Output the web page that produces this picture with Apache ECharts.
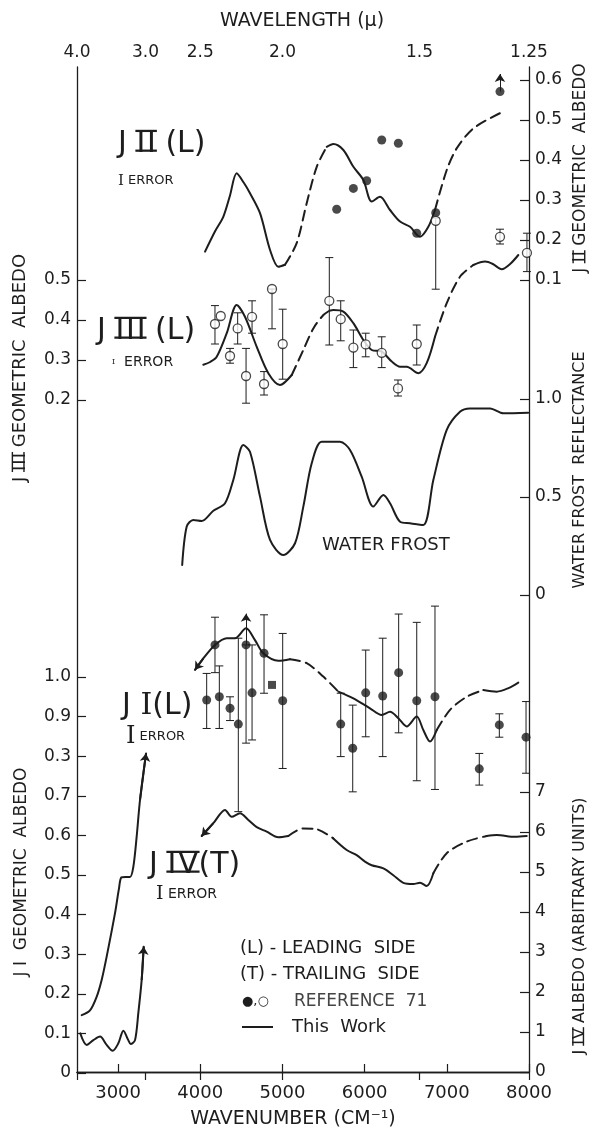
<!DOCTYPE html>
<html>
<head>
<meta charset="utf-8">
<script src="https://cdn.jsdelivr.net/npm/echarts@6/dist/echarts.min.js"></script>
<style>
  html, body { margin: 0; padding: 0; background: #fff; }
  #chart { width: 592px; height: 1130px; }
</style>
</head>
<body>
<div id="chart"></div>
<script>
// ---------- axis ticks ----------
const wavenumberTicks = [3000, 4000, 5000, 6000, 7000, 8000];
const wavelengthTicks = ['4.0', '3.0', '2.5', '2.0', '1.5', '1.25'];
const jiiTicks = [0.1, 0.2, 0.3, 0.4, 0.5, 0.6];
const jiiiTicks = [0.2, 0.3, 0.4, 0.5];
const frostTicks = [0, 0.5, 1.0];
const frostTickLabels = ['0', '0.5', '1.0'];
const jiTicks = [0, 0.1, 0.2, 0.3, 0.4, 0.5, 0.6, 0.7, 0.8, 0.9, 1.0];
const jiTickLabels = ['0', '0.1', '0.2', '0.3', '0.4', '0.5', '0.6', '0.7', '0.3', '0.9', '1.0'];
const jivTicks = [0, 1, 2, 3, 4, 5, 6, 7];

// ---------- J II (Europa, leading side) ----------
const jiiSolidA = [[4058,0.171],[4180,0.222],[4280,0.258],[4360,0.31],[4443,0.367],[4530,0.343],[4605,0.317],[4727,0.267],[4849,0.175],[4950,0.133],[5031,0.138]];
const jiiDashA  = [[5031,0.138],[5173,0.192],[5295,0.292],[5417,0.383],[5539,0.433]];
const jiiSolidB = [[5539,0.433],[5620,0.44],[5741,0.425],[5863,0.383],[5985,0.35],[6086,0.296],[6187,0.308],[6309,0.275],[6431,0.246],[6552,0.233],[6674,0.208],[6775,0.233],[6856,0.275]];
const jiiDashB  = [[6856,0.275],[6999,0.375],[7120,0.429],[7323,0.479],[7647,0.517]];
const jiiRefFilled = [[5660,0.277],[5863,0.329],[6025,0.348],[6208,0.45],[6410,0.442],[6634,0.217],[6865,0.268],[7647,0.571]];
const jiiRefLimit = [[7647,0.571,0.615]];
// [wavenumber, albedo, low, high]
const jiiRefOpen = [[6865,0.248,0.077,0.255],[7647,0.208,0.19,0.227],[7975,0.168,0.121,0.217]];

// ---------- J III (Ganymede, leading side) ----------
const jiiiSolidA = [[4037,0.288],[4120,0.295],[4200,0.308],[4322,0.367],[4443,0.4375],[4544,0.408],[4687,0.333],[4828,0.267],[4970,0.2375],[5113,0.2625]];
const jiiiDashA  = [[5113,0.2625],[5254,0.325],[5376,0.379],[5498,0.4125],[5570,0.423]];
const jiiiSolidB = [[5570,0.423],[5620,0.425],[5741,0.421],[5863,0.392],[5985,0.35],[6086,0.325],[6208,0.321],[6330,0.296],[6431,0.283],[6512,0.283],[6653,0.267],[6755,0.292],[6856,0.358]];
const jiiiDashB  = [[6856,0.358],[6999,0.442],[7160,0.508],[7323,0.5375]];
const jiiiSolidC = [[7323,0.5375],[7465,0.546],[7560,0.54],[7668,0.527],[7770,0.54],[7870,0.5625]];
const jiiiRef = [
  [4179,0.39,0.34,0.436],[4249,0.41,0.41,0.41],[4362,0.31,0.292,0.329],[4455,0.379,0.34,0.418],
  [4557,0.26,0.192,0.329],[4630,0.408,0.367,0.448],[4776,0.24,0.2125,0.271],[4873,0.4775,0.378,0.4775],
  [5003,0.34,0.252,0.427],[5570,0.448,0.3375,0.556],[5709,0.402,0.348,0.448],[5863,0.331,0.281,0.375],
  [6013,0.339,0.308,0.367],[6208,0.318,0.281,0.358],[6406,0.229,0.21,0.25],[6634,0.34,0.2875,0.3875]
];

// ---------- water frost reflectance ----------
const frost = [[3780,0.153],[3835,0.349],[3915,0.383],[4017,0.378],[4159,0.43],[4301,0.468],[4402,0.587],[4524,0.765],[4605,0.731],[4727,0.502],[4849,0.281],[5011,0.204],[5153,0.264],[5254,0.451],[5356,0.672],[5478,0.782],[5700,0.782],[5822,0.74],[5964,0.604],[6106,0.451],[6228,0.51],[6309,0.468],[6431,0.374],[6552,0.366],[6714,0.357],[6836,0.587],[6999,0.842],[7160,0.935],[7282,0.952],[7526,0.952],[7688,0.927],[7990,0.93]];

// ---------- J I (Io, leading side) ----------
const jiSolidA = [[3936,1.018],[4037,1.047],[4179,1.081],[4322,1.098],[4423,1.098],[4557,1.123],[4666,1.093],[4767,1.06],[4950,1.041],[5092,1.045]];
const jiDashA  = [[5092,1.045],[5295,1.035],[5497,1.001],[5680,0.963]];
const jiSolidB = [[5680,0.963],[5863,0.946],[6065,0.921],[6208,0.904],[6309,0.912],[6410,0.896],[6512,0.875],[6634,0.9],[6714,0.866],[6795,0.837],[6877,0.866]];
const jiDashB  = [[6877,0.866],[7039,0.917],[7242,0.95],[7444,0.967]];
const jiSolidC = [[7444,0.967],[7607,0.963],[7750,0.972],[7870,0.986]];
const jiLowUpper = [[2557,0.146],[2658,0.158],[2740,0.193],[2800,0.235],[2861,0.294],[2962,0.403],[3010,0.465],[3040,0.494],[3090,0.495],[3145,0.495],[3185,0.52],[3226,0.597],[3267,0.69],[3340,0.807]];
const jiLowLower = [[2540,0.1],[2618,0.071],[2699,0.083],[2780,0.092],[2861,0.071],[2934,0.056],[3003,0.075],[3064,0.107],[3124,0.083],[3153,0.073],[3206,0.083],[3246,0.151],[3287,0.235],[3312,0.319]];
const jiRef = [
  [4078,0.942,0.87,1.009],[4179,1.081,1.011,1.151],[4232,0.95,0.87,1.028],[4362,0.921,0.89,0.95],
  [4463,0.881,0.66,1.098],[4557,1.081,0.833,1.081],[4630,0.96,0.841,1.081],[4776,1.06,0.959,1.157],
  [5003,0.94,0.769,1.11],[5709,0.881,0.799,0.959],[5855,0.82,0.71,0.929],[6013,0.96,0.849,1.068],
  [6220,0.952,0.799,1.098],[6414,1.011,0.859,1.159],[6634,0.94,0.738,1.138],[6856,0.95,0.716,1.179],
  [7395,0.768,0.727,0.807],[7639,0.879,0.848,0.907],[7964,0.848,0.757,0.938]
];
const jiRefLimit = [[4557,1.081,1.16]];
const jiRefSquare = [[4873,0.98]];

// ---------- J IV (Callisto, trailing side) ----------
const jivSolidA = [[4017,5.9],[4159,6.22],[4301,6.55],[4382,6.38],[4483,6.47],[4585,6.3],[4687,6.12],[4808,6.01],[4950,5.87],[5071,5.9]];
const jivDashA  = [[5071,5.9],[5254,6.09],[5416,6.07],[5619,5.84]];
const jivSolidB = [[5619,5.84],[5782,5.55],[5903,5.42],[6004,5.26],[6086,5.17],[6228,5.09],[6349,4.92],[6471,4.73],[6593,4.7],[6674,4.73],[6755,4.65],[6836,4.97]];
const jivDashB  = [[6836,4.97],[6999,5.47],[7242,5.76],[7485,5.9]];
const jivSolidC = [[7485,5.9],[7607,5.925],[7830,5.88],[7972,5.9]];

// ---------- drawing ----------
const INK = '#1d1d1d';
const FONT = '"DejaVu Sans", sans-serif';
const SERIF = '"DejaVu Serif", serif';
const W = 592, H = 1130, LEFT = 77, RIGHT = 529;

// vertical pixel band for each panel's value axis
function band(topPx, bottomPx) {
  return { left: LEFT, right: W - RIGHT, top: topPx, bottom: H - bottomPx };
}
const grids = [
  band(67, 1072),   // frame
  band(80, 280),    // J II   0.1 .. 0.6
  band(280, 400),   // J III  0.2 .. 0.5
  band(399, 595),   // frost  0 .. 1
  band(677, 1073),  // J I    0 .. 1
  band(792, 1072)   // J IV   0 .. 7
];

const tickStyle = { color: INK, width: 1.2 };
const labelBase = { color: INK, fontFamily: FONT, fontSize: 17 };

function hiddenX(g) {
  return { gridIndex: g, type: 'value', min: 2500, max: 8000, show: false };
}
function valueAxis(g, pos, min, max, ticks, fmt) {
  return {
    gridIndex: g, type: 'value', min, max, position: pos,
    axisLine: { show: false },
    splitLine: { show: false },
    axisTick: { show: true, inside: true, length: 9, customValues: ticks, lineStyle: tickStyle },
    axisLabel: Object.assign({ customValues: ticks, formatter: fmt, margin: 6 }, labelBase)
  };
}

const wavelengthValues = wavelengthTicks.map(s => 1e4 / parseFloat(s));

const xAxes = [
  {
    gridIndex: 0, type: 'value', min: 2500, max: 8000, position: 'bottom',
    axisLine: { show: true, lineStyle: { color: INK, width: 1.3 } },
    splitLine: { show: false },
    axisTick: { show: true, inside: true, length: 8, customValues: wavenumberTicks, lineStyle: tickStyle },
    axisLabel: Object.assign({ customValues: wavenumberTicks, margin: 12, formatter: v => String(Math.round(v)) }, labelBase, { fontSize: 18 })
  },
  {
    gridIndex: 0, type: 'value', min: 2500, max: 8000, position: 'top',
    axisLine: { show: true, lineStyle: { color: INK, width: 1.3 } },
    splitLine: { show: false },
    axisTick: { show: true, inside: true, length: 8, customValues: wavelengthValues, lineStyle: tickStyle },
    axisLabel: Object.assign({
      customValues: wavelengthValues, margin: 6,
      formatter: v => wavelengthTicks[wavelengthValues.findIndex(u => Math.abs(u - v) < 1)]
    }, labelBase)
  },
  hiddenX(1), hiddenX(2), hiddenX(3), hiddenX(4), hiddenX(5)
];

function frameY(pos) {
  return {
    gridIndex: 0, type: 'value', min: 0, max: 1, position: pos,
    axisLine: { show: true, lineStyle: { color: INK, width: 1.3 } },
    axisTick: { show: false }, axisLabel: { show: false }, splitLine: { show: false }
  };
}
const yAxes = [
  frameY('left'), frameY('right'),
  valueAxis(1, 'right', 0.1, 0.6, jiiTicks, v => v.toFixed(1)),
  valueAxis(2, 'left', 0.2, 0.5, jiiiTicks, v => v.toFixed(1)),
  valueAxis(3, 'right', 0, 1, frostTicks, v => frostTickLabels[frostTicks.findIndex(u => Math.abs(u - v) < 1e-6)]),
  valueAxis(4, 'left', 0, 1, jiTicks, v => jiTickLabels[Math.round(v * 10)]),
  valueAxis(5, 'right', 0, 7, jivTicks, v => String(Math.round(v)))
];

// panel index -> axis index (frame uses 0/1)
const AX = { jii: 2, jiii: 3, frost: 4, ji: 5, jiv: 6 };

function curve(data, ax, dashed) {
  return {
    type: 'line', xAxisIndex: ax, yAxisIndex: ax, data,
    symbol: 'none', showSymbol: false, smooth: 0.3, clip: false, silent: true, z: 3,
    lineStyle: { color: INK, width: 2, type: dashed ? [10, 6] : 'solid', cap: 'round', join: 'round' }
  };
}
function filledPoints(data, ax) {
  return {
    type: 'scatter', xAxisIndex: ax, yAxisIndex: ax, data, clip: false, z: 5,
    symbol: 'circle', symbolSize: 9, encode: { x: 0, y: 1 },
    itemStyle: { color: INK }
  };
}
function openPoints(data, ax) {
  return {
    type: 'scatter', xAxisIndex: ax, yAxisIndex: ax, data, clip: false, z: 5,
    symbol: 'circle', symbolSize: 9, encode: { x: 0, y: 1 },
    itemStyle: { color: '#fff', borderColor: INK, borderWidth: 1.3 }
  };
}
function errorBars(data, ax) {
  return {
    type: 'custom', xAxisIndex: ax, yAxisIndex: ax, data, clip: false, z: 4, silent: true,
    encode: { x: 0, y: [2, 3] },
    renderItem(params, api) {
      const x = api.value(0);
      const lo = api.coord([x, api.value(2)]);
      const hi = api.coord([x, api.value(3)]);
      const w = 4;
      const st = { stroke: INK, lineWidth: 1 };
      const kids = [];
      if (Math.abs(lo[1] - hi[1]) > 0.5) {
        kids.push({ type: 'line', shape: { x1: lo[0], y1: lo[1], x2: hi[0], y2: hi[1] }, style: st });
        kids.push({ type: 'line', shape: { x1: lo[0] - w, y1: lo[1], x2: lo[0] + w, y2: lo[1] }, style: st });
        kids.push({ type: 'line', shape: { x1: hi[0] - w, y1: hi[1], x2: hi[0] + w, y2: hi[1] }, style: st });
      }
      return { type: 'group', children: kids };
    }
  };
}
// arrowhead along a short segment
function arrows(segments, ax, width) {
  return {
    type: 'lines', coordinateSystem: 'cartesian2d', xAxisIndex: ax, yAxisIndex: ax,
    polyline: false, clip: false, silent: true, z: 4,
    symbol: ['none', 'arrow'], symbolSize: 8,
    lineStyle: { color: INK, width: width, opacity: 1, curveness: 0 },
    data: segments.map(s => ({ coords: s }))
  };
}
const limitSegs = arr => arr.map(d => [[d[0], d[1]], [d[0], d[2]]]);
const startSeg = arr => [arr[1], arr[0]];
const endSeg = arr => [arr[arr.length - 2], arr[arr.length - 1]];

const series = [
  // J II
  curve(jiiSolidA, AX.jii), curve(jiiDashA, AX.jii, true), curve(jiiSolidB, AX.jii), curve(jiiDashB, AX.jii, true),
  filledPoints(jiiRefFilled, AX.jii),
  arrows(limitSegs(jiiRefLimit), AX.jii, 1),
  errorBars(jiiRefOpen, AX.jii), openPoints(jiiRefOpen, AX.jii),
  // J III
  curve(jiiiSolidA, AX.jiii), curve(jiiiDashA, AX.jiii, true), curve(jiiiSolidB, AX.jiii),
  curve(jiiiDashB, AX.jiii, true), curve(jiiiSolidC, AX.jiii),
  errorBars(jiiiRef, AX.jiii), openPoints(jiiiRef, AX.jiii),
  // water frost
  curve(frost, AX.frost),
  // J I
  curve(jiSolidA, AX.ji), curve(jiDashA, AX.ji, true), curve(jiSolidB, AX.ji), curve(jiDashB, AX.ji, true), curve(jiSolidC, AX.ji),
  curve(jiLowUpper, AX.ji), curve(jiLowLower, AX.ji),
  arrows([startSeg(jiSolidA), endSeg(jiLowUpper), endSeg(jiLowLower)], AX.ji, 2),
  errorBars(jiRef, AX.ji), filledPoints(jiRef, AX.ji),
  arrows(limitSegs(jiRefLimit), AX.ji, 1),
  {
    type: 'scatter', xAxisIndex: AX.ji, yAxisIndex: AX.ji, data: jiRefSquare, clip: false, z: 5,
    symbol: 'rect', symbolSize: 8, itemStyle: { color: INK }
  },
  // J IV
  curve(jivSolidA, AX.jiv), curve(jivDashA, AX.jiv, true), curve(jivSolidB, AX.jiv),
  curve(jivDashB, AX.jiv, true), curve(jivSolidC, AX.jiv),
  arrows([startSeg(jivSolidA)], AX.jiv, 2)
];

// ---------- text ----------
const mctx = document.createElement('canvas').getContext('2d');
function measure(text, size, family) {
  mctx.font = size + 'px ' + family;
  mctx.textBaseline = 'middle';
  return mctx.measureText(text);
}

// A run of text pieces; pieces flagged 'num' are Roman numerals drawn
// letter by letter with bars along their tops and bottoms.
function labelRun(x, y, size, pieces, opts) {
  opts = opts || {};
  const color = opts.color || INK;
  const items = [];
  let cur = 0;
  pieces.forEach(p => {
    const fam = p.family || FONT;
    const sz = p.size || size;
    if (p.num) {
      const start = cur;
      const letters = p.t.split('');
      let asc = 0, desc = 0;
      letters.forEach((ch, i) => {
        const m = measure(ch, sz, fam);
        asc = Math.max(asc, m.actualBoundingBoxAscent);
        desc = Math.max(desc, m.actualBoundingBoxDescent);
        items.push({ kind: 'text', t: ch, x: cur, fam, sz });
        cur += m.width + (i < letters.length - 1 ? sz * 0.06 : 0);
      });
      const th = Math.max(1.4, sz * 0.075);
      items.push({ kind: 'bar', x: start - 1, y: -asc, w: cur - start + 2, h: th });
      items.push({ kind: 'bar', x: start - 1, y: desc - th, w: cur - start + 2, h: th });
    } else {
      items.push({ kind: 'text', t: p.t, x: cur, fam, sz });
      cur += measure(p.t, sz, fam).width;
    }
  });
  const shift = opts.align === 'center' ? -cur / 2 : 0;
  const children = items.map(it => it.kind === 'text'
    ? {
        type: 'text', x: it.x + shift, y: 0, silent: true,
        style: {
          text: it.t, fontFamily: it.fam, fontSize: it.sz, fill: color,
          align: 'left', textAlign: 'left', verticalAlign: 'middle', textVerticalAlign: 'middle'
        }
      }
    : { type: 'rect', silent: true, shape: { x: it.x + shift, y: it.y, width: it.w, height: it.h }, style: { fill: color } });
  return { type: 'group', x, y, rotation: opts.rotation || 0, z: 10, silent: true, children };
}
const T = (t, extra) => Object.assign({ t }, extra || {});
const N = (t, extra) => Object.assign({ t, num: true }, extra || {});
const UP = Math.PI / 2;

const graphic = [
  // axis titles
  labelRun(302, 21, 19, [T('WAVELENGTH (μ)')], { align: 'center' }),
  labelRun(293, 1119, 19, [T('WAVENUMBER (CM⁻¹)')], { align: 'center' }),
  labelRun(20, 368, 18, [T('J '), N('III'), T(' GEOMETRIC  ALBEDO')], { align: 'center', rotation: UP }),
  labelRun(22, 872, 17, [T('J I  GEOMETRIC  ALBEDO')], { align: 'center', rotation: UP }),
  labelRun(581, 168, 17, [T('J '), N('II'), T(' GEOMETRIC  ALBEDO')], { align: 'center', rotation: UP }),
  labelRun(580, 470, 16, [T('WATER FROST  REFLECTANCE')], { align: 'center', rotation: UP }),
  labelRun(580, 926, 16, [T('J '), N('IV'), T(' ALBEDO (ARBITRARY UNITS)')], { align: 'center', rotation: UP }),

  // panel names with their error keys
  labelRun(118, 144, 30, [T('J '), N('II'), T(' (L)')]),
  labelRun(118, 181, 15, [T('I', { family: SERIF }), T(' ERROR', { size: 13 })]),
  labelRun(97, 331, 30, [T('J '), N('III'), T(' (L)')]),
  labelRun(112, 362, 8, [T('I', { family: SERIF }), T('  ERROR', { size: 14 })]),
  labelRun(322, 545, 18, [T('WATER FROST')]),
  labelRun(122, 706, 30, [T('J '), T('I', { family: SERIF }), T('(L)')]),
  labelRun(126, 737, 24, [T('I', { family: SERIF }), T(' ERROR', { size: 13 })]),
  labelRun(149, 865, 30, [T('J '), N('IV'), T('(T)')]),
  labelRun(156, 894, 19, [T('I', { family: SERIF }), T(' ERROR', { size: 14 })]),

  // key
  labelRun(240, 948, 18, [T('(L) - LEADING  SIDE')]),
  labelRun(240, 974, 18, [T('(T) - TRAILING  SIDE')]),
  labelRun(242, 1002, 13, [T('●,○')]),
  labelRun(294, 1002, 17, [T('REFERENCE  71')], { color: '#444' }),
  {
    type: 'line', silent: true, z: 10,
    shape: { x1: 242, y1: 1027, x2: 273, y2: 1027 },
    style: { stroke: INK, lineWidth: 2 }
  },
  labelRun(292, 1027, 18, [T('This  Work')])
];

const chart = echarts.init(document.getElementById('chart'), null, { renderer: 'canvas', width: W, height: H });
chart.setOption({
  animation: false,
  backgroundColor: '#fff',
  grid: grids,
  xAxis: xAxes,
  yAxis: yAxes,
  series,
  graphic
});
</script>
</body>
</html>
